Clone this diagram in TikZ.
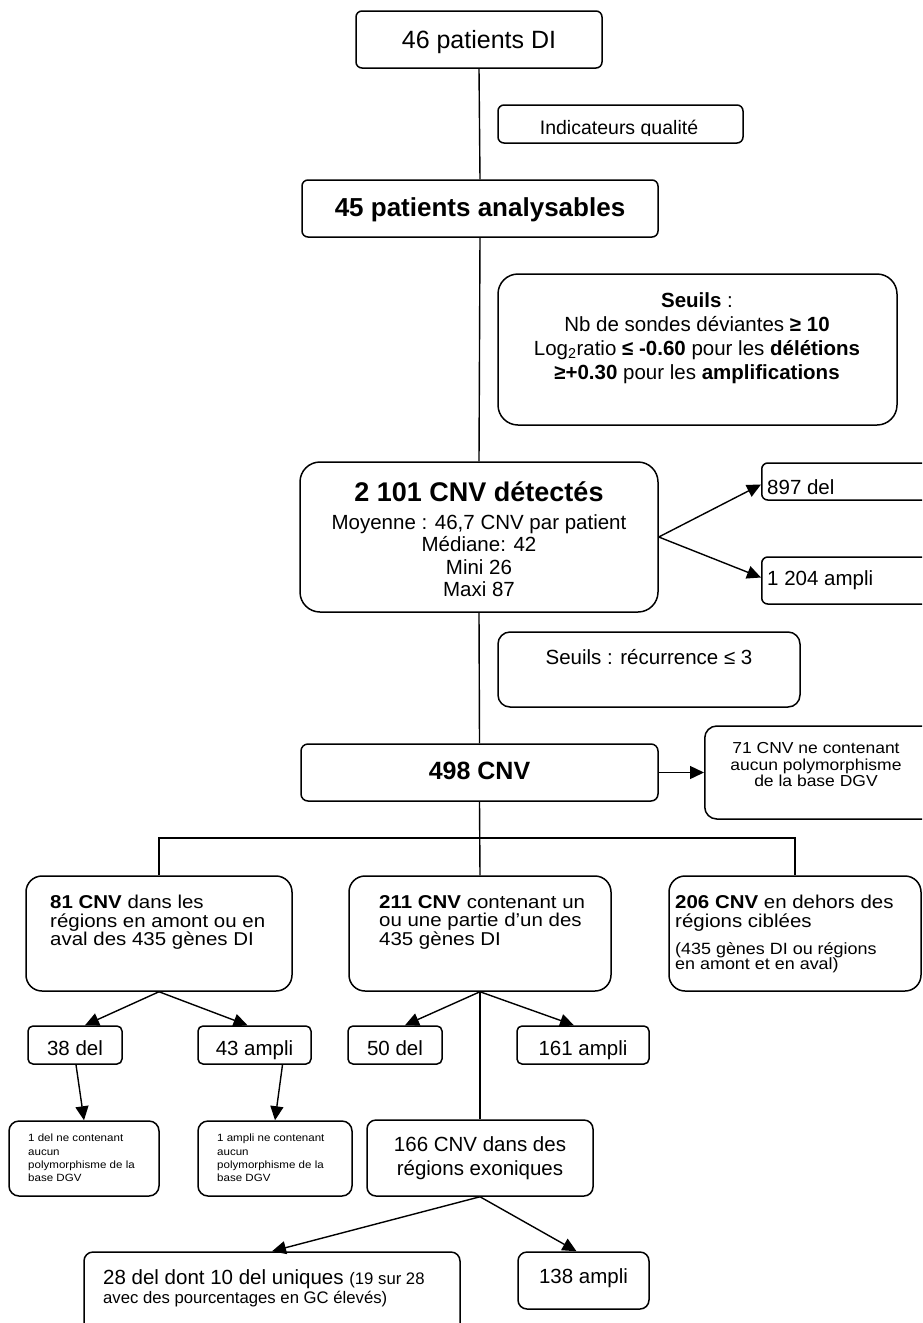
\documentclass[tikz,border=0pt]{standalone}
\usepackage{fontspec}
\setmainfont{Liberation Sans}
\newfontfamily\wfont{Liberation Sans}[FakeStretch=1.1]
\usetikzlibrary{arrows.meta}
\newcommand\myfs[2]{\fontsize{#1}{#2}\selectfont\lineskiplimit=-50pt\relax}
\begin{document}
\begin{tikzpicture}[x=1pt,y=-1pt,
  box/.style={draw, line width=1.5pt, rounded corners=#1, inner sep=0pt},
  box/.default=7pt,
  con/.style={line width=1.4pt},
  arr/.style={con, -{Triangle[length=14pt,width=13pt]}},
  txt/.style={inner sep=0pt, text=black},
  nf/.style={font=\wfont\myfs{18.6}{18.3}},
]
\useasboundingbox (0,0) rectangle (922,1323);
\clip (0,0) rectangle (922,1323);

% ---- top chain
\node[box=6pt, minimum width=246pt, minimum height=57pt] (n46) at (479,39.5) {};
\node[txt, anchor=base, font=\myfs{25}{30}] (t46) at (479,48.5) {46 patients DI};

\node[box=6pt, minimum width=245pt, minimum height=38pt] (ind) at (620.5,124) {};
\begin{scope}
  \clip (498,106) rectangle (743,135.5);
  \node[txt, anchor=base, font=\myfs{19.5}{22}] (tind) at (619,134) {Indicateurs qualité};
\end{scope}

\node[box=6pt, minimum width=356pt, minimum height=57pt] (n45) at (480,208.5) {};
\node[txt, anchor=base, font=\myfs{26}{30}\bfseries] (t45) at (480,216.8) {45 patients analysables};

\node[box=20pt, minimum width=399pt, minimum height=151pt] (s1) at (697.5,349.5) {};
\node[txt, anchor=north, align=center, font=\myfs{20.5}{24}] (ts1) at (697,292.7)
  {\textbf{Seuils} :\\
   Nb de sondes déviantes \textbf{≥ 10}\\
   Log\textsubscript{2}ratio \textbf{≤ -0.60} pour les \textbf{délétions}\\
   \textbf{≥+0.30} pour les \textbf{amplifications}};

\node[box=20pt, minimum width=358pt, minimum height=150pt] (n2101) at (479,537) {};
\node[txt, anchor=base, font=\myfs{27}{30}\bfseries] (t2101) at (479,501.7) {2 101 CNV détectés};
\node[txt, anchor=north, align=center, font=\myfs{20.5}{22.2}] (t2101b) at (479,514.7)
  {Moyenne : 46,7 CNV par patient\\Médiane: 42\\Mini 26\\Maxi 87};

\node[box=6pt, anchor=west, minimum width=180pt, minimum height=37pt] (n897) at (761,481.5) {};
\node[txt, anchor=base west, font=\myfs{20.5}{22}] (t897) at (767,494) {897 del};
\node[box=6pt, anchor=west, minimum width=180pt, minimum height=47pt] (n1204) at (761,580.5) {};
\node[txt, anchor=base west, font=\myfs{20.5}{22}] (t1204) at (767,585.3) {1 204 ampli};

\node[box=12pt, minimum width=302pt, minimum height=75pt] (s2) at (649,669.5) {};
\node[txt, anchor=base, font=\myfs{20.5}{22}] (ts2) at (649,664.3) {Seuils : récurrence ≤ 3};

\node[box=7pt, minimum width=357pt, minimum height=57pt] (n498) at (479.5,772.5) {};
\node[txt, anchor=base, font=\myfs{25}{30}\bfseries] (t498) at (479.5,779.7) {498 CNV};

\node[box=12pt, anchor=west, minimum width=236pt, minimum height=93pt] (n71) at (704,772.5) {};
\node[txt, anchor=north, align=center, font=\wfont\myfs{15.9}{16.6}] (t71) at (816,742.3)
  {71 CNV ne contenant\\aucun polymorphisme\\de la base DGV};

% ---- three branches
\coordinate (br) at (479,838);
\node[box=16pt, minimum width=266pt, minimum height=115pt] (n81) at (159,933.5) {};
\node[txt, anchor=north west, align=left, nf] (t81) at (50,895.3)
  {\textbf{81 CNV} dans les\\régions en amont ou en\\aval des 435 gènes DI};
\node[box=16pt, minimum width=262pt, minimum height=115pt] (n211) at (480,933.5) {};
\node[txt, anchor=north west, align=left, nf] (t211) at (379,895.3)
  {\textbf{211 CNV} contenant un\\ou une partie d’un des\\435 gènes DI};
\node[box=16pt, minimum width=252pt, minimum height=115pt] (n206) at (795,933.5) {};
\node[txt, anchor=north west, align=left, nf] (t206) at (675,895.3)
  {\textbf{206 CNV} en dehors des\\régions ciblées};
\node[txt, anchor=north west, align=left, font=\wfont\myfs{16.3}{15}] (t206b) at (675,942.2)
  {(435 gènes DI ou régions\\en amont et en aval)};

% ---- small boxes
\node[box=5pt, minimum width=94pt, minimum height=38pt] (n38) at (75,1045) {};
\node[txt, anchor=base, font=\myfs{20.5}{22}] (t38) at (75,1055.3) {38 del};
\node[box=5pt, minimum width=113pt, minimum height=38pt] (n43) at (254.5,1045) {};
\node[txt, anchor=base, font=\myfs{20.5}{22}] (t43) at (254.5,1055.3) {43 ampli};
\node[box=5pt, minimum width=94pt, minimum height=38pt] (n50) at (395,1045) {};
\node[txt, anchor=base, font=\myfs{20.5}{22}] (t50) at (395,1055.3) {50 del};
\node[box=5pt, minimum width=132pt, minimum height=38pt] (n161) at (583,1045) {};
\node[txt, anchor=base, font=\myfs{20.5}{22}] (t161) at (583,1055.3) {161 ampli};

\node[box=10pt, minimum width=150pt, minimum height=75pt] (n1del) at (84,1158.5) {};
\node[txt, anchor=north west, align=left, font=\wfont\myfs{10.5}{13.3}] (t1del) at (28,1134)
  {1 del ne contenant\\aucun\\polymorphisme de la\\base DGV};
\node[box=10pt, minimum width=154pt, minimum height=75pt] (n1amp) at (275,1158.5) {};
\node[txt, anchor=north west, align=left, font=\wfont\myfs{10.5}{13.3}] (t1amp) at (217,1134)
  {1 ampli ne contenant\\aucun\\polymorphisme de la\\base DGV};

\node[box=9pt, minimum width=226pt, minimum height=76pt] (n166) at (480,1158) {};
\node[txt, anchor=north, align=center, font=\myfs{20.5}{24}] (t166) at (480,1136.7)
  {166 CNV dans des\\régions exoniques};

\node[box=9pt, minimum width=376pt, minimum height=88pt] (n28) at (272,1296) {};
\node[txt, anchor=base west, font=\myfs{20.5}{22}] (t28a) at (103,1284.3)
  {28 del dont 10 del uniques {\myfs{16.7}{18}(19 sur 28}};
\node[txt, anchor=base west, font=\myfs{16.7}{18}] (t28b) at (103,1303)
  {avec des pourcentages en GC élevés)};
\node[box=9pt, minimum width=131pt, minimum height=57pt] (n138) at (583.5,1280.5) {};
\node[txt, anchor=base, font=\myfs{20.5}{22}] (t138) at (583.5,1283.3) {138 ampli};

% ---- connectors
\draw[con] (n46.south) -- (n45.north);
\draw[con] (n45.south) -- (n2101.north);
\draw[con] (n2101.south) -- (n498.north);
\draw[con] (n498.south) -- (n211.north);
\draw[con] (n81.north) |- (br) -| (n206.north);
\draw[arr] (n2101.east) -- ([yshift=-3pt]n897.west);
\draw[arr] (n2101.east) -- ([yshift=3pt]n1204.west);
\draw[arr] (n498.east) -- (n71.west);
\draw[arr] (n81.south) -- ([xshift=10pt]n38.north);
\draw[arr] (n81.south) -- ([xshift=-7pt]n43.north);
\draw[arr] (n211.south) -- ([xshift=10pt]n50.north);
\draw[arr] (n211.south) -- ([xshift=-9pt]n161.north);
\draw[con] (n211.south) -- (n166.north);
\draw[arr] ([xshift=1pt]n38.south) -- (n1del.north);
\draw[arr] ([xshift=28pt]n43.south) -- (n1amp.north);
\draw[arr] (n166.south) -- (n28.north);
\draw[arr] (n166.south) -- ([xshift=-7pt]n138.north);
\end{tikzpicture}
\end{document}
